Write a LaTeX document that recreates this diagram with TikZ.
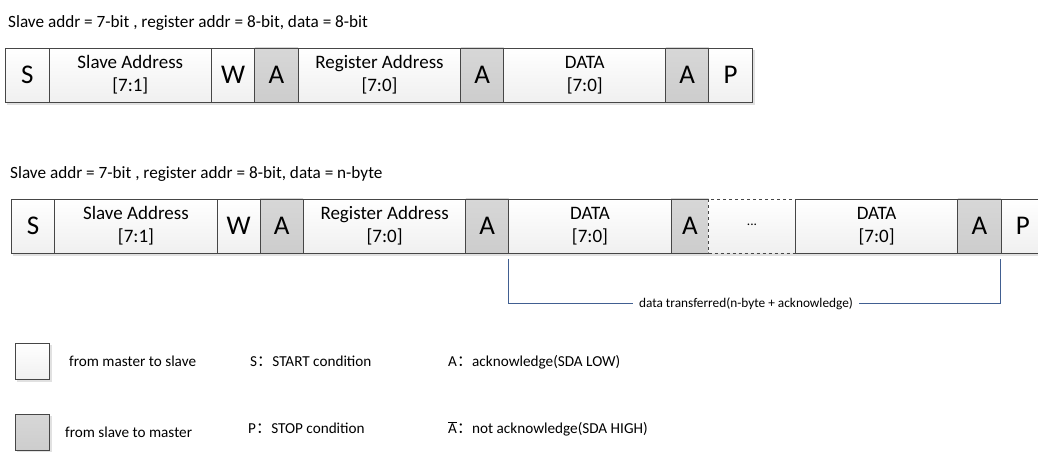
\documentclass[tikz,border=0pt]{standalone}
\usepackage{fontspec}
\setmainfont{Carlito}
\newfontfamily\cjk{Noto Sans CJK SC}
\usetikzlibrary{backgrounds}
\definecolor{bordercol}{RGB}{70,70,70}
\definecolor{grayfill}{RGB}{205,205,205}
\definecolor{shadowcol}{RGB}{225,225,225}
\definecolor{bracketcol}{RGB}{65,95,145}
\newcommand\lblfont{\fontsize{19}{23}\selectfont}
\newcommand\bigfont{\fontsize{27}{30}\selectfont}
\newcommand\ttlfont{\fontsize{17.2}{20}\selectfont}
\newcommand\legfont{\fontsize{15.2}{18}\selectfont}
\newcommand\smfont{\fontsize{13.3}{16}\selectfont}
\newcommand\fcolon{{\cjk ：}}
\tikzset{
  pkt/.style={draw=bordercol, line width=0.9pt, minimum height=54pt, inner sep=0pt,
    anchor=north west, top color=white, bottom color=black!6, align=center, font=\lblfont},
  ltr/.style={pkt, font=\bigfont},
  ack/.style={pkt, font=\bigfont, top color=grayfill!80!white, bottom color=grayfill},
  dots/.style={pkt, dashed, line width=0.7pt, font=\smfont},
  ttl/.style={anchor=base west, inner sep=0pt, font=\ttlfont},
  leg/.style={anchor=base west, inner sep=0pt, font=\legfont},
  legbox/.style={draw=bordercol, line width=0.9pt, minimum width=34pt, minimum height=36pt,
    inner sep=0pt, anchor=north west},
  brk/.style={draw=bracketcol, line width=0.9pt},
}
\begin{document}
\begin{tikzpicture}[x=1pt,y=-1pt]
\useasboundingbox (0,0) rectangle (1038,451);
\clip (0,0) rectangle (1038,451);

% titles
\node[ttl] (t1) at (8,27) {Slave addr = 7-bit , register addr = 8-bit, data = 8-bit};
\node[ttl] (t2) at (10,178) {Slave addr = 7-bit , register addr = 8-bit, data = n-byte};

% row 1
\node[ltr, minimum width=43.7pt] (a1) at (5,47.5) {S};
\node[pkt, minimum width=162.3pt] (a2) at (48.7,47.5) {Slave Address\\{}[7:1]};
\node[ltr, minimum width=43.3pt] (a3) at (211,47.5) {W};
\node[ack, minimum width=43.5pt] (a4) at (254.3,47.5) {A};
\node[pkt, minimum width=162.5pt] (a5) at (297.8,47.5) {Register Address\\{}[7:0]};
\node[ack, minimum width=43pt] (a6) at (460.3,47.5) {A};
\node[pkt, minimum width=162pt] (a7) at (503.3,47.5) {DATA\\{}[7:0]};
\node[ack, minimum width=43pt] (a8) at (665.3,47.5) {A};
\node[ltr, minimum width=43.5pt] (a9) at (708.3,47.5) {P};

% row 2
\node[ltr, minimum width=43.3pt] (b1) at (11,198.5) {S};
\node[pkt, minimum width=162.4pt] (b2) at (54.3,198.5) {Slave Address\\{}[7:1]};
\node[ltr, minimum width=43pt] (b3) at (216.7,198.5) {W};
\node[ack, minimum width=43.3pt] (b4) at (259.7,198.5) {A};
\node[pkt, minimum width=162.3pt] (b5) at (303,198.5) {Register Address\\{}[7:0]};
\node[ack, minimum width=43pt] (b6) at (465.3,198.5) {A};
\node[pkt, minimum width=162.4pt] (b7) at (508.3,198.5) {DATA\\{}[7:0]};
\node[ack, minimum width=37.6pt] (b8) at (670.7,198.5) {A};
\node[dots, minimum width=86.7pt] (b9) at (708.3,198.5) {\raisebox{2pt}{...}};
\node[pkt, minimum width=162.3pt] (b10) at (795,198.5) {DATA\\{}[7:0]};
\node[ack, minimum width=43.4pt] (b11) at (957.3,198.5) {A};
\node[ltr, minimum width=50pt] (b12) at (1000.7,198.5) {\hspace*{-6.5pt}P};

% shadows
\begin{scope}[on background layer]
  \fill[shadowcol] ([xshift=1.5pt,yshift=-2.5pt]a1.north west) rectangle ([xshift=2pt,yshift=-2.5pt]a9.south east);
  \fill[shadowcol] ([xshift=1.5pt,yshift=-2.5pt]b1.north west) rectangle ([xshift=2pt,yshift=-2.5pt]b12.south east);
\end{scope}

% bracket
\coordinate (bl) at (508.3,259);
\coordinate (br) at (1000.7,259);
\node[font=\smfont, inner sep=6pt] (dt) at (746,303.5) {data transferred(n-byte + acknowledge)};
\draw[brk] (bl) |- (dt.west);
\draw[brk] (dt.east) -| (br);

% legend
\node[legbox, top color=white, bottom color=black!6] (l1) at (15,343) {};
\node[legbox, top color=grayfill!80!white, bottom color=grayfill] (l2) at (15,414) {};
\begin{scope}[on background layer]
  \fill[shadowcol] ([xshift=2pt,yshift=-2pt]l1.north west) rectangle ([xshift=2pt,yshift=-2pt]l1.south east);
  \fill[shadowcol] ([xshift=2pt,yshift=-2pt]l2.north west) rectangle ([xshift=2pt,yshift=-2pt]l2.south east);
\end{scope}
\node[leg] (m1) at (69,366) {from master to slave};
\node[leg] (m2) at (65,437) {from slave to master};
\node[leg] (s1) at (250,366) {S\fcolon START condition};
\node[leg] (s2) at (248,433) {P\fcolon STOP condition};
\node[leg] (n1) at (448,366.5) {A\fcolon acknowledge(SDA LOW)};
\node[leg] (n2) at (448,433) {$\overline{\mbox{A}}$\fcolon not acknowledge(SDA HIGH)};
\end{tikzpicture}
\end{document}
